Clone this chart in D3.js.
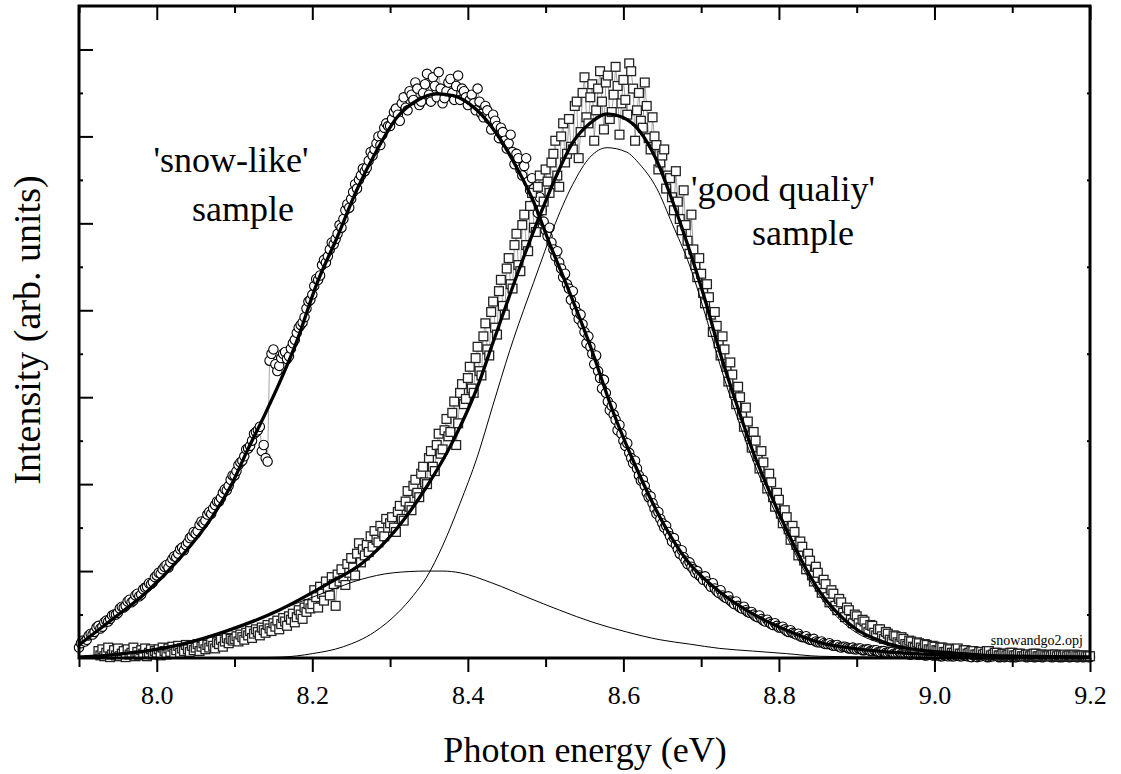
<!DOCTYPE html>
<html>
<head>
<meta charset="utf-8">
<script src="https://cdn.jsdelivr.net/npm/d3@7"></script>
<style>
html,body{margin:0;padding:0;background:#fff;}
svg{display:block;}
</style>
</head>
<body>
<svg id="chart" width="1121" height="774"></svg>
<script>
// ---- data (photon energy in eV, intensity in arb. units) ----
const energy = [
7.9,7.9025,7.905,7.9075,7.91,7.9125,7.915,7.9175,7.92,7.9225,7.925,7.9275,7.93,7.9325,7.935,7.9375,7.94,7.9425,7.945,7.9475,7.95,7.9525,7.955,7.9575,7.96,7.9625,7.965,7.9675,7.97,7.9725,7.975,7.9775,7.98,7.9825,7.985,7.9875,7.99,7.9925,7.995,7.9975,
8.0,8.0025,8.005,8.0075,8.01,8.0125,8.015,8.0175,8.02,8.0225,8.025,8.0275,8.03,8.0325,8.035,8.0375,8.04,8.0425,8.045,8.0475,8.05,8.0525,8.055,8.0575,8.06,8.0625,8.065,8.0675,8.07,8.0725,8.075,8.0775,8.08,8.0825,8.085,8.0875,8.09,8.0925,8.095,8.0975,
8.1,8.1025,8.105,8.1075,8.11,8.1125,8.115,8.1175,8.12,8.1225,8.125,8.1275,8.13,8.1325,8.135,8.1375,8.14,8.1425,8.145,8.1475,8.15,8.1525,8.155,8.1575,8.16,8.1625,8.165,8.1675,8.17,8.1725,8.175,8.1775,8.18,8.1825,8.185,8.1875,8.19,8.1925,8.195,8.1975,
8.2,8.2025,8.205,8.2075,8.21,8.2125,8.215,8.2175,8.22,8.2225,8.225,8.2275,8.23,8.2325,8.235,8.2375,8.24,8.2425,8.245,8.2475,8.25,8.2525,8.255,8.2575,8.26,8.2625,8.265,8.2675,8.27,8.2725,8.275,8.2775,8.28,8.2825,8.285,8.2875,8.29,8.2925,8.295,8.2975,
8.3,8.3025,8.305,8.3075,8.31,8.3125,8.315,8.3175,8.32,8.3225,8.325,8.3275,8.33,8.3325,8.335,8.3375,8.34,8.3425,8.345,8.3475,8.35,8.3525,8.355,8.3575,8.36,8.3625,8.365,8.3675,8.37,8.3725,8.375,8.3775,8.38,8.3825,8.385,8.3875,8.39,8.3925,8.395,8.3975,
8.4,8.4025,8.405,8.4075,8.41,8.4125,8.415,8.4175,8.42,8.4225,8.425,8.4275,8.43,8.4325,8.435,8.4375,8.44,8.4425,8.445,8.4475,8.45,8.4525,8.455,8.4575,8.46,8.4625,8.465,8.4675,8.47,8.4725,8.475,8.4775,8.48,8.4825,8.485,8.4875,8.49,8.4925,8.495,8.4975,
8.5,8.5025,8.505,8.5075,8.51,8.5125,8.515,8.5175,8.52,8.5225,8.525,8.5275,8.53,8.5325,8.535,8.5375,8.54,8.5425,8.545,8.5475,8.55,8.5525,8.555,8.5575,8.56,8.5625,8.565,8.5675,8.57,8.5725,8.575,8.5775,8.58,8.5825,8.585,8.5875,8.59,8.5925,8.595,8.5975,
8.6,8.6025,8.605,8.6075,8.61,8.6125,8.615,8.6175,8.62,8.6225,8.625,8.6275,8.63,8.6325,8.635,8.6375,8.64,8.6425,8.645,8.6475,8.65,8.6525,8.655,8.6575,8.66,8.6625,8.665,8.6675,8.67,8.6725,8.675,8.6775,8.68,8.6825,8.685,8.6875,8.69,8.6925,8.695,8.6975,
8.7,8.7025,8.705,8.7075,8.71,8.7125,8.715,8.7175,8.72,8.7225,8.725,8.7275,8.73,8.7325,8.735,8.7375,8.74,8.7425,8.745,8.7475,8.75,8.7525,8.755,8.7575,8.76,8.7625,8.765,8.7675,8.77,8.7725,8.775,8.7775,8.78,8.7825,8.785,8.7875,8.79,8.7925,8.795,8.7975,
8.8,8.8025,8.805,8.8075,8.81,8.8125,8.815,8.8175,8.82,8.8225,8.825,8.8275,8.83,8.8325,8.835,8.8375,8.84,8.8425,8.845,8.8475,8.85,8.8525,8.855,8.8575,8.86,8.8625,8.865,8.8675,8.87,8.8725,8.875,8.8775,8.88,8.8825,8.885,8.8875,8.89,8.8925,8.895,8.8975,
8.9,8.9025,8.905,8.9075,8.91,8.9125,8.915,8.9175,8.92,8.9225,8.925,8.9275,8.93,8.9325,8.935,8.9375,8.94,8.9425,8.945,8.9475,8.95,8.9525,8.955,8.9575,8.96,8.9625,8.965,8.9675,8.97,8.9725,8.975,8.9775,8.98,8.9825,8.985,8.9875,8.99,8.9925,8.995,8.9975,
9.0,9.0025,9.005,9.0075,9.01,9.0125,9.015,9.0175,9.02,9.0225,9.025,9.0275,9.03,9.0325,9.035,9.0375,9.04,9.0425,9.045,9.0475,9.05,9.0525,9.055,9.0575,9.06,9.0625,9.065,9.0675,9.07,9.0725,9.075,9.0775,9.08,9.0825,9.085,9.0875,9.09,9.0925,9.095,9.0975,
9.1,9.1025,9.105,9.1075,9.11,9.1125,9.115,9.1175,9.12,9.1225,9.125,9.1275,9.13,9.1325,9.135,9.1375,9.14,9.1425,9.145,9.1475,9.15,9.1525,9.155,9.1575,9.16,9.1625,9.165,9.1675,9.17,9.1725,9.175,9.1775,9.18,9.1825,9.185,9.1875,9.19,9.1925,9.195,9.1975,
9.2];

// 'snow-like' sample (circles)
const snowData = [
0.12,0.17,0.20,0.19,0.21,0.26,0.28,0.27,0.30,0.35,0.37,0.34,0.36,0.41,0.43,0.42,0.45,0.49,0.50,0.50,0.52,0.57,0.59,0.58,0.60,0.65,0.67,0.64,0.66,0.72,0.74,0.71,0.73,0.79,0.81,0.82,0.86,0.85,0.87,0.93,
0.95,0.98,0.97,1.02,1.05,1.07,1.04,1.10,1.14,1.17,1.16,1.20,1.25,1.27,1.24,1.30,1.33,1.38,1.40,1.45,1.43,1.46,1.53,1.57,1.55,1.58,1.65,1.68,1.66,1.72,1.76,1.80,1.80,1.84,1.90,1.94,1.93,1.98,2.05,2.10,
2.10,2.15,2.22,2.25,2.27,2.32,2.40,2.41,2.44,2.50,2.58,2.60,2.62,2.66,2.38,2.45,2.30,2.26,3.42,3.50,3.55,3.38,3.30,3.36,3.45,3.50,3.52,3.44,3.47,3.56,3.62,3.66,3.74,3.80,3.83,3.86,3.92,4.02,4.10,4.12,
4.18,4.28,4.36,4.35,4.40,4.52,4.58,4.55,4.62,4.70,4.78,4.76,4.82,4.88,4.98,4.95,5.05,5.15,5.22,5.18,5.28,5.36,5.45,5.40,5.50,5.55,5.63,5.60,5.64,5.72,5.82,5.78,5.85,5.92,6.00,5.90,6.02,6.10,6.15,6.12,
6.12,6.20,6.28,6.32,6.25,6.18,6.38,6.45,6.33,6.30,6.52,6.48,6.42,6.62,6.55,6.36,6.40,6.50,6.60,6.72,6.48,6.40,6.68,6.58,6.45,6.74,6.55,6.38,6.44,6.52,6.62,6.66,6.50,6.42,6.58,6.70,6.42,6.55,6.52,6.45,
6.36,6.42,6.48,6.38,6.30,6.55,6.40,6.26,6.22,6.35,6.30,6.20,6.08,6.25,6.18,6.12,5.98,6.10,6.05,5.95,5.86,5.92,6.02,5.82,5.68,5.80,5.75,5.62,5.55,5.66,5.75,5.48,5.38,5.52,5.40,5.25,5.12,5.30,5.15,5.02,
4.92,4.85,4.95,4.78,4.70,4.62,4.68,4.55,4.48,4.38,4.42,4.30,4.25,4.12,4.22,4.05,3.98,3.90,3.95,3.84,3.75,3.62,3.70,3.58,3.50,3.38,3.48,3.30,3.22,3.10,3.20,3.05,2.95,2.85,2.90,2.80,2.74,2.62,2.68,2.58,
2.50,2.44,2.47,2.36,2.30,2.24,2.27,2.18,2.10,2.04,2.05,1.98,1.90,1.85,1.86,1.78,1.72,1.66,1.68,1.60,1.55,1.50,1.52,1.45,1.40,1.34,1.38,1.30,1.25,1.20,1.24,1.16,1.12,1.08,1.10,1.05,1.02,0.98,1.00,0.95,
0.93,0.90,0.94,0.88,0.85,0.82,0.86,0.80,0.77,0.75,0.78,0.72,0.70,0.69,0.71,0.66,0.64,0.62,0.65,0.60,0.58,0.57,0.59,0.55,0.53,0.52,0.53,0.50,0.48,0.47,0.49,0.45,0.43,0.42,0.44,0.41,0.39,0.38,0.40,0.37,
0.35,0.35,0.36,0.33,0.31,0.30,0.32,0.29,0.28,0.27,0.28,0.25,0.24,0.24,0.25,0.22,0.21,0.21,0.22,0.19,0.18,0.18,0.19,0.17,0.16,0.16,0.17,0.15,0.14,0.14,0.15,0.13,0.12,0.13,0.13,0.12,0.11,0.11,0.12,0.10,
0.10,0.11,0.11,0.09,0.09,0.10,0.10,0.08,0.08,0.09,0.09,0.07,0.07,0.08,0.08,0.06,0.06,0.07,0.07,0.05,0.05,0.06,0.07,0.05,0.05,0.05,0.06,0.04,0.04,0.05,0.05,0.04,0.04,0.04,0.05,0.03,0.03,0.04,0.04,0.03,
0.03,0.03,0.04,0.02,0.02,0.03,0.03,0.02,0.03,0.02,0.02,0.03,0.04,0.02,0.02,0.03,0.03,0.02,0.02,0.01,0.03,0.02,0.01,0.02,0.02,0.03,0.03,0.01,0.01,0.02,0.02,0.03,0.03,0.01,0.01,0.02,0.01,0.02,0.02,0.01,
0.02,0.01,0.01,0.02,0.02,0.03,0.03,0.01,0.01,0.02,0.02,0.01,0.01,0.02,0.02,0.01,0.01,0.03,0.03,0.02,0.01,0.01,0.02,0.02,0.01,0.01,0.01,0.02,0.02,0.01,0.01,0.02,0.02,0.01,0.01,0.02,0.01,0.01,0.02,0.01,
0.01];

// 'good quality' sample (squares); null = no measurement
const goodData = [
null,null,null,null,null,null,null,null,null,null,0.08,0.03,0.10,0.02,0.06,0.12,0.01,0.04,0.09,0.03,0.11,0.02,0.05,0.08,0.01,0.10,0.04,0.06,0.12,0.02,0.07,0.03,0.09,0.05,0.11,0.02,0.06,0.10,0.04,0.08,
0.06,0.10,0.03,0.12,0.08,0.04,0.11,0.07,0.13,0.05,0.09,0.14,0.06,0.11,0.08,0.15,0.10,0.07,0.14,0.09,0.12,0.16,0.08,0.13,0.17,0.10,0.15,0.12,0.19,0.14,0.11,0.18,0.16,0.21,0.13,0.19,0.23,0.17,0.22,0.20,
0.22,0.25,0.19,0.27,0.24,0.21,0.29,0.26,0.31,0.23,0.28,0.33,0.30,0.26,0.35,0.32,0.29,0.38,0.34,0.31,0.40,0.36,0.43,0.33,0.39,0.46,0.42,0.37,0.48,0.44,0.51,0.41,0.47,0.55,0.50,0.45,0.58,0.53,0.62,0.57,
0.62,0.78,0.70,0.58,0.82,0.74,0.66,0.88,0.80,0.72,0.93,0.85,0.60,0.96,0.88,1.02,0.92,0.84,1.08,0.98,1.15,1.04,0.95,1.20,1.32,1.10,1.25,1.18,1.30,1.22,1.40,1.28,1.46,1.36,1.33,1.52,1.45,1.40,1.60,1.50,
1.55,1.62,1.50,1.45,1.68,1.75,1.60,1.58,1.80,1.92,1.74,1.70,1.98,2.05,1.90,1.85,2.12,2.20,2.02,2.00,2.30,2.38,2.20,2.15,2.45,2.58,2.35,2.40,2.62,2.75,2.55,2.60,2.82,2.95,2.45,2.70,3.05,3.15,2.92,2.98,
3.22,3.35,3.10,3.05,3.45,3.58,3.30,3.25,3.70,3.85,3.55,3.48,3.98,4.10,3.80,3.72,4.22,4.35,4.05,3.95,4.48,4.60,4.30,4.25,4.75,4.88,4.52,4.45,4.98,5.10,4.75,4.68,5.20,5.35,4.95,4.90,5.42,5.55,5.15,5.25,
5.62,5.48,5.35,5.70,5.80,5.95,5.55,5.42,6.00,6.15,5.70,5.80,6.20,5.88,5.85,6.35,6.40,5.75,6.05,6.50,6.68,6.22,6.15,6.45,6.60,5.95,6.30,6.55,6.75,6.40,6.08,6.62,6.70,6.20,6.28,6.48,6.80,6.58,6.02,6.38,
6.65,6.42,6.25,6.84,6.75,6.55,5.95,6.30,6.50,6.18,6.10,6.62,6.35,5.98,5.85,6.22,6.00,5.90,5.62,5.70,5.78,5.85,5.40,5.55,5.52,5.30,5.15,5.60,5.25,5.05,4.92,5.38,4.98,4.80,4.65,5.10,4.70,4.52,4.38,4.60,
4.42,4.20,4.08,4.30,4.15,3.95,3.75,3.98,3.82,3.62,3.48,3.70,3.55,3.35,3.18,3.40,3.26,3.05,2.92,3.12,3.00,2.80,2.66,2.88,2.72,2.55,2.42,2.60,2.50,2.32,2.18,2.38,2.25,2.08,1.95,2.12,2.02,1.85,1.74,1.90,
1.82,1.66,1.55,1.70,1.62,1.48,1.36,1.52,1.45,1.30,1.18,1.34,1.28,1.12,1.02,1.20,1.12,0.95,0.88,1.05,0.98,0.82,0.75,0.90,0.85,0.70,0.64,0.78,0.74,0.60,0.55,0.68,0.64,0.52,0.47,0.58,0.55,0.44,0.40,0.50,
0.48,0.40,0.35,0.44,0.42,0.34,0.30,0.38,0.37,0.29,0.26,0.33,0.33,0.25,0.22,0.30,0.28,0.21,0.19,0.26,0.25,0.18,0.16,0.24,0.22,0.16,0.14,0.20,0.19,0.13,0.12,0.18,0.17,0.12,0.10,0.16,0.15,0.10,0.09,0.14,
0.13,0.09,0.08,0.12,0.12,0.07,0.07,0.11,0.10,0.06,0.06,0.10,0.11,0.05,0.05,0.09,0.09,0.05,0.06,0.08,0.08,0.04,0.04,0.07,0.07,0.04,0.05,0.08,0.08,0.03,0.04,0.06,0.06,0.03,0.03,0.05,0.05,0.03,0.04,0.06,
0.06,0.03,0.03,0.05,0.05,0.02,0.02,0.04,0.04,0.02,0.03,0.05,0.05,0.02,0.02,0.04,0.04,0.03,0.02,0.03,0.02,0.04,0.04,0.02,0.03,0.03,0.02,0.04,0.02,0.03,0.03,0.02,0.04,0.03,0.02,0.02,0.03,0.03,0.02,0.02,
0.02];

// fitted curves
const snowFitX = [7.900,7.942,7.986,8.029,8.071,8.097,8.115,8.140,8.157,8.179,8.206,8.232,8.257,8.283,8.309,8.334,8.360,8.381,8.412,8.437,8.463,8.484,8.505,8.527,8.557,8.586,8.617,8.647,8.681,8.724,8.766,8.810,8.852,8.895,8.939,9.023,9.110,9.200];
const snowFitY = [0.15,0.44,0.75,1.14,1.62,2.01,2.36,2.82,3.15,3.62,4.31,4.84,5.38,5.84,6.22,6.41,6.49,6.47,6.30,6.03,5.64,5.26,4.77,4.29,3.60,2.85,2.18,1.62,1.13,0.76,0.51,0.32,0.18,0.11,0.07,0.03,0.01,0.01];

const goodFitX = [7.900,7.935,8.029,8.093,8.157,8.221,8.264,8.307,8.347,8.373,8.390,8.412,8.432,8.463,8.493,8.514,8.535,8.557,8.579,8.599,8.621,8.643,8.663,8.685,8.707,8.724,8.746,8.766,8.788,8.810,8.831,8.852,8.874,8.895,8.939,8.981,9.023,9.067,9.200];
const goodFitY = [0.01,0.03,0.15,0.32,0.55,0.86,1.09,1.47,1.97,2.36,2.66,3.11,3.62,4.40,5.10,5.55,5.93,6.15,6.26,6.22,6.06,5.72,5.26,4.69,4.06,3.52,2.91,2.39,1.91,1.47,1.09,0.77,0.53,0.36,0.17,0.09,0.06,0.03,0.01];

// components of the 'good quality' fit
const mainCompX = [7.900,8.100,8.160,8.200,8.240,8.280,8.310,8.330,8.347,8.368,8.390,8.412,8.432,8.454,8.489,8.509,8.535,8.557,8.579,8.604,8.621,8.643,8.663,8.685,8.707,8.724,8.746,8.766,8.788,8.810,8.831,8.852,8.874,8.895,8.939,8.981,9.067,9.200];
const mainCompY = [0.00,0.00,0.01,0.05,0.13,0.30,0.52,0.72,0.93,1.30,1.78,2.31,2.90,3.54,4.43,4.92,5.45,5.76,5.87,5.82,5.68,5.40,4.99,4.52,3.90,3.38,2.78,2.29,1.82,1.40,1.03,0.72,0.48,0.32,0.15,0.08,0.02,0.00];

const broadCompX = [7.900,7.935,7.978,8.029,8.093,8.157,8.221,8.261,8.304,8.347,8.368,8.390,8.432,8.476,8.518,8.561,8.604,8.647,8.685,8.724,8.766,8.810,8.852,8.939,9.200];
const broadCompY = [0.02,0.03,0.07,0.15,0.32,0.55,0.77,0.90,0.98,1.00,1.00,0.98,0.86,0.70,0.55,0.41,0.30,0.21,0.16,0.11,0.08,0.05,0.02,0.01,0.00];

const xMajorTicks = [8.0,8.2,8.4,8.6,8.8,9.0,9.2];
const xMinorTicks = [7.9,8.1,8.3,8.5,8.7,8.9,9.1];
const yMajorTicks = [1,2,3,4,5,6,7];
const yMinorTicks = [0.5,1.5,2.5,3.5,4.5,5.5,6.5];

const labels = {
  x: "Photon energy (eV)",
  y: "Intensity (arb. units)",
  snow: ["'snow-like'", "sample"],
  good: ["'good qualiy'", "sample"],
  file: "snowandgo2.opj"
};

// ---- drawing ----
const FONT = "'Liberation Serif', 'Times New Roman', Times, serif";
const svg = d3.select("#chart");
svg.append("rect").attr("width",1121).attr("height",774).attr("fill","#fff");

const L = 79, R = 1090, T = 6, B = 658;
const x = d3.scaleLinear().domain([7.9, 9.2]).range([L, R]);
const y = d3.scaleLinear().domain([0, 7.5]).range([B, T]);

const pts = (xs, ys) => xs.map((v,i)=>[v, ys[i]]).filter(d => d[1] !== null && d[1] !== undefined);
const snowPts = pts(energy, snowData);
const goodPts = pts(energy, goodData);

const plot = svg.append("g");

// thin connecting lines of the measured data
const dataLine = d3.line().x(d=>x(d[0])).y(d=>y(d[1]));
plot.append("path").datum(snowPts).attr("d", dataLine)
  .attr("fill","none").attr("stroke","#666").attr("stroke-width",0.6);
plot.append("path").datum(goodPts).attr("d", dataLine)
  .attr("fill","none").attr("stroke","#666").attr("stroke-width",0.6);

// circles
plot.append("g").selectAll("circle").data(snowPts).join("circle")
  .attr("cx", d=>x(d[0])).attr("cy", d=>y(d[1])).attr("r", 4.7)
  .attr("fill","#fff").attr("stroke","#000").attr("stroke-width",1.1);

// squares
const sq = 8.8;
plot.append("g").selectAll("rect").data(goodPts).join("rect")
  .attr("x", d=>x(d[0])-sq/2).attr("y", d=>y(d[1])-sq/2)
  .attr("width", sq).attr("height", sq)
  .attr("fill","#fff").attr("stroke","#222").attr("stroke-width",1.3);

// fits
const fitLine = d3.line().x(d=>x(d[0])).y(d=>y(d[1])).curve(d3.curveMonotoneX);
plot.append("path").datum(pts(mainCompX, mainCompY)).attr("d", fitLine)
  .attr("fill","none").attr("stroke","#000").attr("stroke-width",1);
plot.append("path").datum(pts(broadCompX, broadCompY)).attr("d", fitLine)
  .attr("fill","none").attr("stroke","#000").attr("stroke-width",1);
plot.append("path").datum(pts(snowFitX, snowFitY)).attr("d", fitLine)
  .attr("fill","none").attr("stroke","#000").attr("stroke-width",3.3);
plot.append("path").datum(pts(goodFitX, goodFitY)).attr("d", fitLine)
  .attr("fill","none").attr("stroke","#000").attr("stroke-width",3.3);

// axes
const axStyle = g => {
  g.select(".domain").remove();
  g.selectAll(".tick line").attr("stroke","#000").attr("stroke-width",2);
};
svg.append("g").attr("transform",`translate(0,${B})`)
  .call(d3.axisBottom(x).tickValues(xMajorTicks).tickSize(14).tickPadding(14).tickFormat(d3.format(".1f")))
  .call(axStyle)
  .call(g => g.selectAll("text").attr("font-size",26).style("font-family",FONT).attr("fill","#000"));
svg.append("g").attr("transform",`translate(0,${B})`)
  .call(d3.axisBottom(x).tickValues(xMinorTicks).tickSize(9).tickFormat(""))
  .call(axStyle);
svg.append("g").attr("transform",`translate(0,${T})`)
  .call(d3.axisBottom(x).tickValues(xMajorTicks).tickSize(14).tickFormat(""))
  .call(axStyle);
svg.append("g").attr("transform",`translate(0,${T})`)
  .call(d3.axisBottom(x).tickValues(xMinorTicks).tickSize(7).tickFormat(""))
  .call(axStyle);
svg.append("g").attr("transform",`translate(${L},0)`)
  .call(d3.axisRight(y).tickValues(yMajorTicks).tickSize(14).tickFormat(""))
  .call(axStyle);
svg.append("g").attr("transform",`translate(${L},0)`)
  .call(d3.axisRight(y).tickValues(yMinorTicks).tickSize(4).tickFormat(""))
  .call(axStyle);
svg.append("g").attr("transform",`translate(${R},0)`)
  .call(d3.axisLeft(y).tickValues(yMinorTicks).tickSize(3).tickFormat(""))
  .call(axStyle);

// frame
svg.append("rect").attr("x",L).attr("y",T).attr("width",R-L).attr("height",B-T)
  .attr("fill","none").attr("stroke","#000").attr("stroke-width",3);

// titles and annotations
const txt = (xx, yy, s, size, anchor) => svg.append("text")
  .attr("x",xx).attr("y",yy).attr("text-anchor",anchor||"middle")
  .attr("font-size",size).style("font-family",FONT).attr("fill","#000").text(s);

txt(585, 762, labels.x, 36);
svg.append("text").attr("transform","translate(40,330) rotate(-90)").attr("text-anchor","middle")
  .attr("font-size",38).style("font-family",FONT).attr("fill","#000").text(labels.y);

txt(231, 172, labels.snow[0], 36);
txt(243, 221, labels.snow[1], 36);
txt(783, 201, labels.good[0], 36);
txt(803, 245, labels.good[1], 36);
txt(1083, 645, labels.file, 14, "end");
</script>
</body>
</html>
